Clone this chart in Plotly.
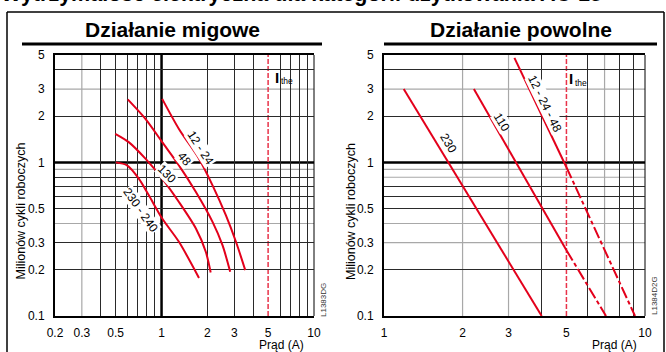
import numpy as np
import plotly.graph_objects as go

# ---------------- data ----------------
# Left panel: "Działanie migowe" (current A, millions of cycles)
mig_12_24_x = [1.01, 1.30, 1.76, 2.16, 2.64, 3.08, 3.54]
mig_12_24_y = [2.59, 1.65, 1.057, 0.709, 0.453, 0.303, 0.199]
mig_48_x = [0.60, 0.784, 1.01, 1.30, 1.68, 2.16, 2.51, 2.82]
mig_48_y = [2.57, 1.92, 1.355, 0.956, 0.641, 0.41, 0.289, 0.194]
mig_130_x = [0.497, 0.609, 0.784, 1.01, 1.30, 1.68, 1.95, 2.10]
mig_130_y = [1.535, 1.355, 1.057, 0.784, 0.552, 0.371, 0.262, 0.192]
mig_230_x = [0.502, 0.594, 0.709, 0.825, 1.01, 1.30, 1.76]
mig_230_y = [1.0, 0.956, 0.784, 0.61, 0.431, 0.304, 0.177]

# Right panel: "Działanie powolne" (solid up to I_the, dashed beyond)
pow_230_x = [1.19, 4.02]
pow_230_y = [3.0, 0.1]
pow_110_x = [2.21, 5.0, 7.09]
pow_110_y = [3.0, 0.268, 0.1]
pow_12_48_x = [3.16, 5.0, 9.16]
pow_12_48_y = [4.79, 0.93, 0.1]

I_THE = 5.0

# tick labels
left_x_ticks = [0.2, 0.3, 0.5, 1, 2, 3, 5, 10]
left_x_text = ["0.2", "0.3", "0.5", "1", "2", "3", "5", "10"]
right_x_ticks = [1, 2, 3, 5, 10]
right_x_text = ["1", "2", "3", "5", "10"]
y_ticks = [0.1, 0.2, 0.3, 0.5, 1, 2, 3, 5]
y_text = ["0.1", "0.2", "0.3", "0.5", "1", "2", "3", "5"]

# grid values (dark / grey lines)
left_x_dark = [0.4, 0.5, 0.6, 0.7, 0.8, 0.9, 2, 3, 4, 6, 7, 8, 9]
left_x_grey = [0.3]
left_y_dark = [0.2, 0.3, 0.5, 0.6, 0.7, 0.8, 2, 4]
left_y_grey = [0.4, 0.9, 3]
right_x_dark = [4, 6, 8, 9]
right_x_grey = [2, 3, 7]
right_y_dark = [0.2, 0.5, 0.6, 0.7, 2, 4]
right_y_grey = [0.3, 0.4, 0.8, 0.9, 3]

# curve labels: (text, x, y, angle)
left_labels = [("12 - 24", 1.81, 1.246, 57), ("48", 1.418, 1.057, 50),
               ("130", 1.09, 0.845, 45), ("230 - 240", 0.727, 0.488, 55)]
right_labels = [("230", 1.76, 1.33, 59), ("110", 2.82, 1.83, 59),
                ("12 - 24 - 48", 4.14, 2.40, 64)]

# ---------------- style ----------------
W, H = 666, 352
FONT = "Liberation Sans, Arial, Helvetica, sans-serif"
RED = "#e3001b"
RED_DASH = "#e8334a"
DARK = "#2a2a2a"
GREY = "#a8a8a8"


def px(x):
    return x / W


def py(y):
    return 1 - y / H


Y_DOM = [py(316), py(55)]
L_DOM = [px(55), px(314)]
R_DOM = [px(384), px(645)]

fig = go.Figure()

line_style = dict(color=RED, width=2)
for xs, ys in [(mig_12_24_x, mig_12_24_y), (mig_48_x, mig_48_y),
               (mig_130_x, mig_130_y), (mig_230_x, mig_230_y)]:
    fig.add_trace(go.Scatter(x=xs, y=ys, mode="lines", line=dict(shape="spline", smoothing=0.8, **line_style),
                             xaxis="x", yaxis="y", showlegend=False, hoverinfo="skip"))

fig.add_trace(go.Scatter(x=pow_230_x, y=pow_230_y, mode="lines", line=line_style,
                         xaxis="x2", yaxis="y2", showlegend=False, hoverinfo="skip"))
for xs, ys in [(pow_110_x, pow_110_y), (pow_12_48_x, pow_12_48_y)]:
    fig.add_trace(go.Scatter(x=xs[:2], y=ys[:2], mode="lines", line=line_style,
                             xaxis="x2", yaxis="y2", showlegend=False, hoverinfo="skip"))
    fig.add_trace(go.Scatter(x=xs[1:], y=ys[1:], mode="lines",
                             line=dict(color=RED, width=2, dash="12px,3px,4px,3px"),
                             xaxis="x2", yaxis="y2", showlegend=False, hoverinfo="skip"))


def axis_x(dom, rng, ticks, text, dark, anchor):
    return dict(type="log", domain=dom, range=rng, anchor=anchor, automargin=False,
                showline=True, linecolor="black", linewidth=2, mirror=True,
                tickmode="array", tickvals=ticks, ticktext=text, ticks="",
                showgrid=False, zeroline=False, ticklabelstandoff=5,
                tickfont=dict(family=FONT, size=12, color="black"),
                minor=dict(tickmode="array", tickvals=dark, showgrid=True,
                           gridcolor=DARK, gridwidth=1, ticks=""))


def axis_y(rng, dark, anchor):
    return dict(type="log", domain=Y_DOM, range=rng, anchor=anchor, automargin=False,
                showline=True, linecolor="black", linewidth=2, mirror=False,
                tickmode="array", tickvals=y_ticks, ticktext=y_text, ticks="",
                showgrid=False, zeroline=False, ticklabelstandoff=6,
                tickfont=dict(family=FONT, size=12, color="black"),
                minor=dict(tickmode="array", tickvals=dark, showgrid=True,
                           gridcolor=DARK, gridwidth=1, ticks=""))


yr = [-1, np.log10(5)]
fig.update_layout(
    width=W, height=H, margin=dict(l=0, r=0, t=0, b=0, autoexpand=False),
    paper_bgcolor="white", plot_bgcolor="white",
    xaxis=axis_x(L_DOM, [np.log10(0.2), 1], left_x_ticks, left_x_text, left_x_dark, "y"),
    yaxis=axis_y(yr, left_y_dark, "x"),
    xaxis2=axis_x(R_DOM, [0, 1], right_x_ticks, right_x_text, right_x_dark, "y2"),
    yaxis2=axis_y(yr, right_y_dark, "x2"),
)

shapes = []
for xa, ya, gx, gy in [("x", "y", left_x_grey, left_y_grey), ("x2", "y2", right_x_grey, right_y_grey)]:
    for v in gx:
        shapes.append(dict(type="line", xref=xa, yref=ya + " domain", x0=v, x1=v, y0=0, y1=1,
                           line=dict(color=GREY, width=1.2), layer="below"))
    for v in gy:
        shapes.append(dict(type="line", yref=ya, xref=xa + " domain", y0=v, y1=v, x0=0, x1=1,
                           line=dict(color=GREY, width=1.2), layer="below"))
    # right border
    shapes.append(dict(type="line", xref=xa + " domain", yref=ya + " domain", x0=1, x1=1, y0=0, y1=1,
                       line=dict(color="black", width=1), layer="below"))
    # thick unity line
    shapes.append(dict(type="line", yref=ya, xref=xa + " domain", y0=1, y1=1, x0=0, x1=1,
                       line=dict(color="black", width=2.5), layer="below"))
    # I_the
    shapes.append(dict(type="line", xref=xa, yref=ya + " domain", x0=I_THE, x1=I_THE, y0=0, y1=1,
                       line=dict(color=RED_DASH, width=1.5, dash="5px,2px"), layer="below"))
shapes.append(dict(type="line", xref="x", yref="y domain", x0=1, x1=1, y0=0, y1=1,
                   line=dict(color="black", width=2.5), layer="below"))

# heading underlines and frame
shapes.append(dict(type="line", xref="paper", yref="paper", x0=px(22), x1=px(322), y0=py(44), y1=py(44),
                   line=dict(color="black", width=3)))
shapes.append(dict(type="line", xref="paper", yref="paper", x0=px(384), x1=px(657), y0=py(44), y1=py(44),
                   line=dict(color="black", width=3)))
shapes.append(dict(type="line", xref="paper", yref="paper", x0=px(7), x1=px(7), y0=py(12), y1=py(360),
                   line=dict(color="black", width=1.5)))
shapes.append(dict(type="line", xref="paper", yref="paper", x0=px(7), x1=px(664), y0=py(12), y1=py(12),
                   line=dict(color="black", width=1.5)))
shapes.append(dict(type="line", xref="paper", yref="paper", x0=px(664), x1=px(664), y0=py(12), y1=py(360),
                   line=dict(color="black", width=1.5)))
fig.update_layout(shapes=shapes)

ann = []


def text(t, x, y, size, angle=0, xanchor="center", color="black", bold=False):
    ann.append(dict(text=f"<b>{t}</b>" if bold else t, x=px(x), y=py(y), xref="paper", yref="paper",
                    showarrow=False, textangle=angle, xanchor=xanchor, yanchor="middle",
                    font=dict(family=FONT, size=size, color=color)))


text("Wytrzymałość elektryczna dla kategorii użytkowania AC-15", -1, -6, 21.5, xanchor="left", bold=True)
text("Działanie migowe", 173, 29, 21, bold=True)
text("Działanie powolne", 520.5, 29, 21, bold=True)
text("Milionów cykli roboczych", 20.5, 211, 12.5, angle=-90)
text("Milionów cykli roboczych", 351, 211, 12.5, angle=-90)
text("Prąd (A)", 281, 345, 12)
text("Prąd (A)", 614.5, 345, 12)
text("L1383DG", 323, 300, 8, angle=-90, color="#333")
text("L1384D2G", 654, 296, 8, angle=-90, color="#333")
text("I", 277, 77, 15, bold=True)
text("the", 287, 81, 8.5)
text("I", 571, 79, 15, bold=True)
text("the", 581, 83, 8.5)

for labels, xa, ya in [(left_labels, "x", "y"), (right_labels, "x2", "y2")]:
    for t, lx, ly, ang in labels:
        ann.append(dict(text=t, x=np.log10(lx), y=np.log10(ly), xref=xa, yref=ya, showarrow=False,
                        textangle=ang, bgcolor="white", borderpad=0,
                        font=dict(family=FONT, size=12, color="black")))

fig.update_layout(annotations=ann)
fig.write_html("out.html", config={"displayModeBar": False},
               post_script="document.body.style.margin='0';document.body.style.padding='0';")
